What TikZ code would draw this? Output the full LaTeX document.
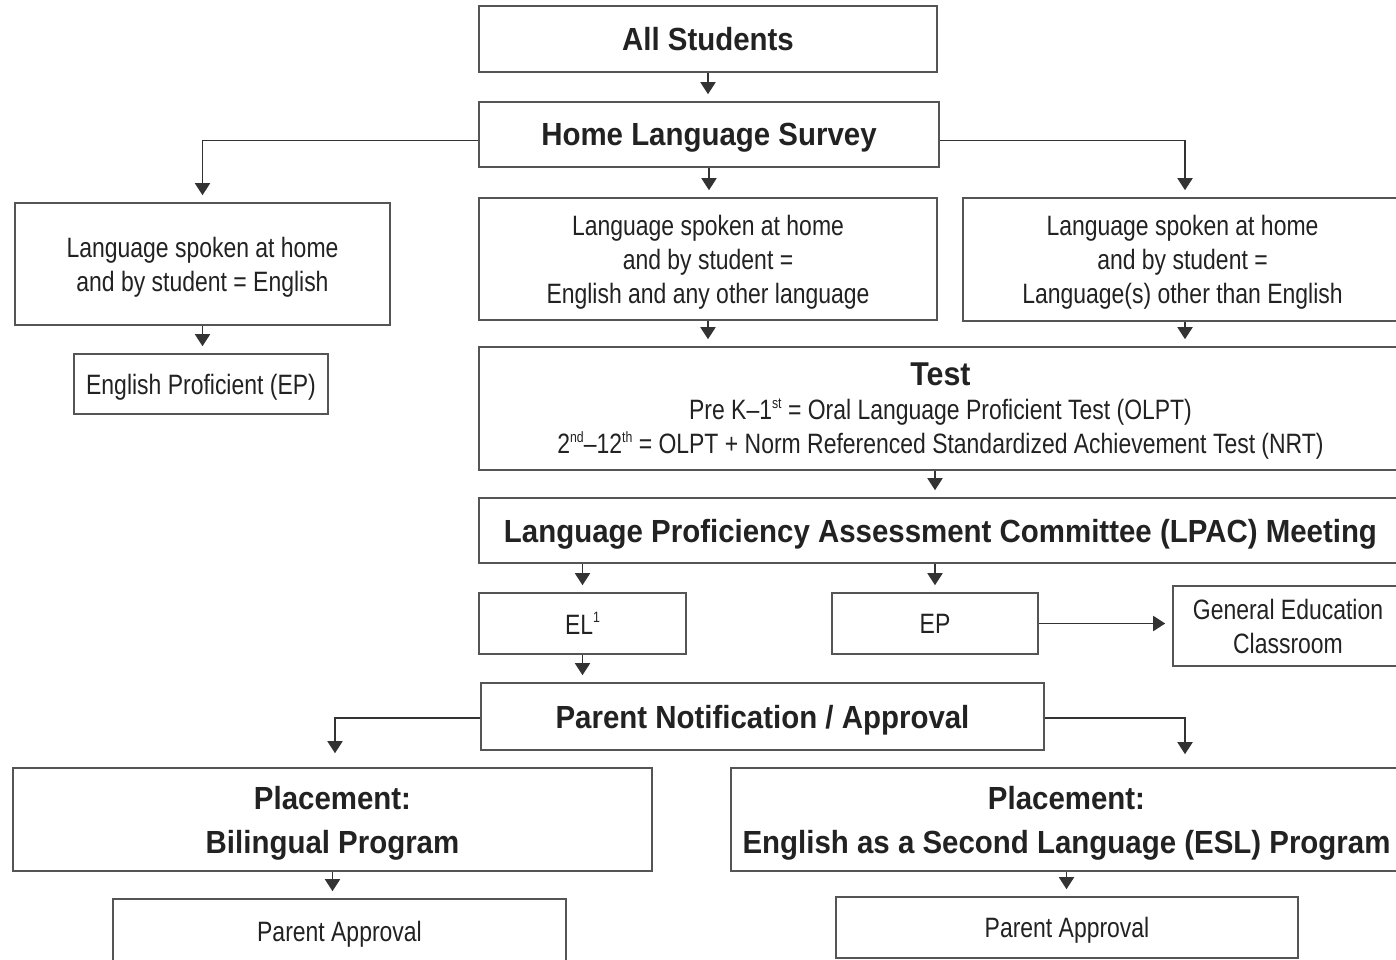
\documentclass[tikz,border=0pt]{standalone}
\usepackage{fontspec}
\newfontfamily\bodyfont[FakeStretch=0.82]{Liberation Sans}
\newfontfamily\headfont[FakeStretch=0.92]{Liberation Sans}
\usetikzlibrary{arrows.meta}
\definecolor{ink}{HTML}{222222}
\definecolor{wire}{HTML}{333333}
\definecolor{frame}{HTML}{555555}
% small raised ordinal / footnote marks
\newcommand{\ordmark}[1]{\raisebox{0.42em}{\fontsize{15}{15}\selectfont #1}}

\begin{document}
\begin{tikzpicture}[x=1pt,y=-1pt,
  box/.style={draw=frame, line width=1.6pt, fill=white, inner sep=0pt, text=ink,
    align=center, text depth=0pt, font=\bodyfont\fontsize{28}{34}\selectfont},
  head/.style={box, font=\headfont\bfseries\fontsize{32}{44}\selectfont},
  arr/.style={draw=wire, line width=1.8pt, -{Triangle[width=15pt,length=12pt]}, shorten >=7pt}]
\clip (0,0) rectangle (1396,960);
\fill[white] (0,0) rectangle (1396,960);

% right-hand column used by the elbow connectors
\coordinate (rcol) at (1185,0);

% top of the flow
\node[head, minimum width=458, minimum height=66] (all) at (708,39) {All Students};
\node[head, minimum width=460, minimum height=65] (hls) at (709,134.5) {Home Language Survey};

% three survey outcomes
\node[box, minimum width=375, minimum height=122] (left) at (202.5,264)
  {Language spoken at home\\and by student = English};
\node[box, minimum width=458, minimum height=122] (mid) at (708,259)
  {Language spoken at home\\and by student =\\English and any other language};
\node[box, minimum width=439, minimum height=123] (right) at (1182.5,259.5)
  {Language spoken at home\\and by student =\\Language(s) other than English};
\node[box, minimum width=254, minimum height=60] (epl) at (201,384) {English Proficient (EP)};

% testing and committee
\node[box, minimum width=923, minimum height=123] (test) at (940.5,408.5)
  {{\headfont\bfseries\fontsize{33}{36}\selectfont Test}\\
   Pre K–1\ordmark{st} = Oral Language Proficient Test (OLPT)\\
   2\ordmark{nd}–12\ordmark{th} = OLPT + Norm Referenced Standardized Achievement Test (NRT)};
\node[head, minimum width=923, minimum height=65] (lpac) at (940.5,530.5)
  {Language Proficiency Assessment Committee (LPAC) Meeting};
\node[box, minimum width=207, minimum height=61] (el) at (582.5,623.5) {EL\ordmark{1}};
\node[box, minimum width=206, minimum height=61] (ep) at (935,623.5) {EP};
\node[box, minimum width=230, minimum height=80] (gen) at (1288,626) {General Education\\Classroom};

% parent notification and placement
\node[head, minimum width=563, minimum height=67] (pn) at (762.5,716.5) {Parent Notification / Approval};
\node[head, minimum width=639, minimum height=103] (bil) at (332.5,819.5) {Placement:\\Bilingual Program};
\node[head, minimum width=671, minimum height=103] (esl) at (1066.5,819.5)
  {Placement:\\English as a Second Language (ESL) Program};
\node[box, minimum width=453, minimum height=64] (pa1) at (339.5,931) {Parent Approval};
\node[box, minimum width=462, minimum height=61] (pa2) at (1067,927.5) {Parent Approval};

% connectors
\draw[arr] (all.south) -- (all.south |- hls.north);
\draw[arr] (hls.south) -- (hls.south |- mid.north);
\draw[arr] ([yshift=-6pt]hls.west) -| (left.north);
\draw[arr] ([yshift=-6pt]hls.east) -| (rcol |- right.north);
\draw[arr] (left.south) -- (left.south |- epl.north);
\draw[arr] (mid.south) -- (mid.south |- test.north);
\draw[arr] (rcol |- right.south) -- (rcol |- test.north);
\draw[arr] (ep.north |- test.south) -- (ep.north |- lpac.north);
\draw[arr] (el.north |- lpac.south) -- (el.north);
\draw[arr] (ep.north |- lpac.south) -- (ep.north);
\draw[arr] (ep.east) -- (gen.west |- ep.east);
\draw[arr] (el.south) -- (el.south |- pn.north);
\draw[arr, shorten >=14pt] ([yshift=-1.5pt]pn.west) -| ([xshift=2.5pt]bil.north);
\draw[arr, shorten >=13pt] ([yshift=-1.5pt]pn.east) -| (rcol |- esl.north);
\draw[arr] (bil.south) -- (bil.south |- pa1.north);
\draw[arr] (esl.south) -- (esl.south |- pa2.north);
\end{tikzpicture}
\end{document}
